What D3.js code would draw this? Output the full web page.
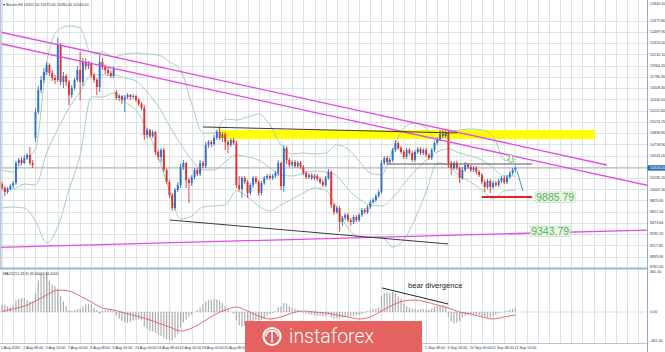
<!DOCTYPE html>
<html>
<head>
<meta charset="utf-8">
<script src="https://cdn.jsdelivr.net/npm/d3@7"></script>
<style>
html, body { margin: 0; padding: 0; background: #fff; }
svg { display: block; font-family: "Liberation Sans", Arial, sans-serif; }
</style>
</head>
<body>
<div id="chart"></div>
<script>
// H4 candles, 1 Aug 2019 00:00 .. 12 Sep 2019 16:00 (weekends skipped)
var timeLabels = ["1 Aug 2019", "2 Aug 08:00", "5 Aug 16:00", "7 Aug 00:00", "8 Aug 08:00", "9 Aug 16:00",
    "13 Aug 00:00", "14 Aug 08:00", "15 Aug 16:00", "19 Aug 00:00", "20 Aug 08:00", "21 Aug 16:00",
    "23 Aug 00:00", "26 Aug 08:00", "27 Aug 16:00", "29 Aug 00:00", "30 Aug 08:00", "2 Sep 16:00",
    "4 Sep 00:00", "5 Sep 08:00", "6 Sep 16:00", "10 Sep 00:00", "11 Sep 08:00", "12 Sep 16:00"];

var open = [10090,10027,9964,10011,10059,10106,10423,10470,10423,10502,
    10549,10423,10819,11230,11578,11737,11863,11974,11848,11768,
    11737,12291,11705,11800,11705,11499,11610,11737,11895,11705,
    12022,11958,11990,11816,11737,11626,12022,11943,11895,11848,
    11800,11547,11452,11483,11420,11468,11499,11468,11483,11420,
    11357,11294,10866,10945,10850,10914,10597,10518,10629,10312,
    10122,9916,9710,9995,10075,10359,10423,10154,10106,10201,
    10312,10249,10423,10375,10708,10755,10724,10819,10914,10819,
    10882,10755,10708,10787,10739,10075,10011,10185,10122,9948,
    10075,10185,10122,9948,10106,10185,10217,10185,10217,10264,
    10423,10059,10660,10470,10391,10439,10375,10423,10359,10264,
    10201,10233,10185,10217,10169,10122,10075,10185,10280,9758,
    9647,9710,9489,9552,9600,9520,9489,9568,9520,9600,
    9679,9647,9726,9805,9837,9900,9964,10423,10502,10439,
    10470,10629,10739,10660,10597,10518,10629,10581,10470,10597,
    10644,10581,10629,10549,10502,10629,10739,10803,10882,10850,
    10898,10423,10344,10423,10344,10185,10312,10391,10359,10312,
    10344,10280,10233,10122,10043,10138,10043,10106,10075,10138,
    10185,10122,10201,10264,10312];

var high = [10122,10059,10043,10090,10138,10454,10502,10518,10549,10581,
    10676,10470,11294,11642,11800,11927,12022,12006,11895,11816,
    12402,12323,11863,11832,11737,11658,11768,11958,12180,12085,
    12085,12038,12022,11848,11768,12133,12085,11974,11927,11879,
    11958,11578,11515,11499,11499,11531,11515,11515,11499,11452,
    11388,11341,10977,10961,10945,10929,10629,10660,10660,10344,
    10154,9948,10027,10122,10407,10470,10439,10185,10233,10344,
    10344,10470,10454,10755,10787,10787,10866,10945,10977,10914,
    10914,10787,10819,10819,10771,10217,10217,10217,10154,10106,
    10217,10217,10154,10138,10217,10249,10249,10249,10296,10470,
    10439,10708,10692,10502,10470,10470,10454,10454,10391,10296,
    10264,10264,10249,10249,10201,10154,10217,10328,10312,9790,
    9742,9742,9584,9631,9631,9552,9600,9600,9631,9710,
    9710,9758,9837,9869,9932,9995,10470,10534,10534,10502,
    10660,10787,10771,10692,10629,10660,10660,10613,10629,10676,
    10676,10660,10660,10581,10660,10771,10834,10945,10945,10961,
    10929,10454,10454,10454,10375,10359,10439,10423,10391,10375,
    10375,10312,10264,10154,10169,10169,10138,10138,10169,10217,
    10217,10233,10296,10344,10375];

var low = [9995,9900,9932,9995,10027,10075,10375,10391,10407,10470,
    10391,10344,10755,11199,11531,11689,11816,11800,11721,11673,
    11705,11658,11610,11642,11341,11452,11578,11705,11420,11642,
    11895,11911,11768,11689,11499,11547,11895,11832,11800,11768,
    11768,11420,11404,11357,11230,11436,11420,11436,11388,11325,
    11262,10787,10819,10819,10819,10549,10470,10439,10280,10090,
    9869,9663,9679,9964,10027,10312,10027,9790,10059,10154,
    10217,10217,10344,10344,10660,10676,10692,10787,10787,10755,
    10629,10581,10676,10708,10027,9980,9869,10090,9869,9916,
    10027,10090,9900,9916,10075,10154,10154,10154,10185,10217,
    9995,9964,10407,10359,10359,10344,10344,10328,10233,10169,
    10169,10154,10154,10138,10090,10043,10043,10154,9710,9600,
    9615,9331,9425,9520,9489,9425,9457,9489,9489,9568,
    9615,9615,9695,9774,9805,9869,9932,10391,10407,10407,
    10439,10597,10629,10565,10486,10486,10549,10439,10439,10565,
    10549,10549,10518,10470,10470,10597,10708,10771,10819,10819,
    10344,10233,10312,10312,10106,10154,10280,10328,10280,10280,
    10249,10201,10090,9964,10011,9948,10011,10043,10043,10106,
    10090,10090,10169,10233,10280];

var close = [10027,9964,10011,10059,10106,10423,10470,10423,10502,10549,
    10423,10391,11230,11578,11737,11863,11974,11848,11768,11737,
    12291,11705,11800,11705,11499,11610,11737,11895,11705,12022,
    11958,11990,11816,11737,11626,12022,11943,11895,11848,11800,
    11927,11452,11483,11420,11468,11499,11468,11483,11420,11357,
    11294,10866,10945,10850,10914,10597,10518,10629,10312,10122,
    9916,9710,9995,10075,10359,10423,10154,10106,10201,10312,
    10249,10423,10375,10708,10755,10724,10819,10914,10819,10882,
    10755,10708,10787,10739,10075,10011,10185,10122,9948,10075,
    10185,10122,9948,10106,10185,10217,10185,10217,10264,10423,
    10059,10660,10470,10391,10439,10375,10423,10359,10264,10201,
    10233,10185,10217,10169,10122,10075,10185,10280,9758,9647,
    9710,9489,9552,9600,9520,9489,9568,9520,9600,9679,
    9647,9726,9805,9837,9900,9964,10423,10502,10439,10470,
    10629,10739,10660,10597,10518,10629,10581,10470,10597,10644,
    10581,10629,10549,10502,10629,10739,10803,10882,10850,10898,
    10423,10344,10423,10344,10185,10312,10391,10359,10312,10344,
    10280,10233,10122,10043,10138,10043,10106,10075,10138,10185,
    10122,10201,10264,10312,10344];

// Bollinger bands, read every 4th candle
var bandIndex = [0,4,8,12,16,20,24,28,32,36,40,44,48,52,56,60,64,68,72,76,80,84,88,92,
    96,100,104,108,112,116,120,124,128,132,136,140,144,148,152,156,160,164,168,172,176,180,184];
var bandUpper = [10312,10280,10470,10644,12006,12528,12592,12560,12164,12180,12101,12148,12164,12148,12133,12022,
    11895,11357,10898,10898,11119,11104,11151,11199,11024,10708,10565,10581,10565,10581,10708,10644,
    10454,10264,10233,10629,10977,11056,10977,10771,10914,10945,10961,10945,10850,10470,10439];
var bandMiddle = [10011,10011,10090,10075,10581,10961,11294,11547,11816,11816,11816,11768,11721,11547,11325,11009,
    10724,10470,10312,10312,10439,10549,10518,10470,10344,10233,10217,10264,10296,10280,10217,10011,
    9853,9758,9742,9869,10090,10296,10470,10597,10644,10581,10534,10470,10344,10217,10217];
var bandLower = [9710,9726,9710,9505,9157,9410,9995,10549,11468,11468,11531,11388,11262,10945,10518,9980,
    9536,9584,9726,9742,9758,9980,9885,9742,9663,9758,9853,9948,10027,9995,9710,9394,
    9251,9251,9251,9093,9204,9536,9964,10423,10375,10217,10122,9995,9853,9980,9995];

// MACD(12,26,9): histogram per candle, signal read every 4th candle
var macdHist = [80,78,60,55,70,120,140,145,145,130,
    115,110,200,330,400,420,410,330,290,270,
    240,170,110,60,15,10,15,30,40,60,
    80,85,80,45,20,-20,10,20,25,25,
    20,-40,-70,-95,-110,-115,-105,-90,-80,-75,
    -90,-150,-175,-200,-205,-220,-240,-250,-270,-285,
    -295,-300,-270,-230,-160,-110,-80,-50,-30,0,
    20,50,80,110,125,130,135,130,120,95,
    60,30,0,-20,-90,-140,-155,-145,-130,-110,
    -95,-85,-90,-85,-70,-40,-20,-10,10,50,
    60,95,90,60,45,35,25,10,-5,-15,
    -25,-30,-35,-40,-40,-45,-45,-30,-60,-70,
    -65,-70,-60,-55,-50,-45,-40,-35,-30,-20,
    -5,10,25,35,40,45,170,200,205,200,
    210,195,165,140,90,60,45,35,30,25,
    30,30,25,25,35,55,65,70,70,60,
    -50,-100,-120,-110,-95,-60,-40,-30,-25,-20,
    -25,-35,-45,-55,-60,-55,-45,-30,-15,-5,
    5,15,25,35,45];
var macdSignal = [5,31,63,115,178,230,220,168,105,42,21,-10,-42,-73,-115,-157,-199,-168,-105,-31,21,52,10,-42,
    -73,-52,-10,10,0,-10,-31,-52,-73,-52,10,73,115,126,105,73,42,0,-21,-52,-73,-52,-31];

var priceTicks = [8762.00,8939.90,9117.80,9295.70,9473.60,9651.50,9829.40,10007.30,10185.20,10363.10,10541.00,
    10718.90,10896.80,11074.70,11252.60,11430.50,11608.40,11786.30,11964.20,12142.10,12320.00,12497.90,12675.80];
var priceTop = 12940.10;
var macdTicks = [461, 0, -461];

// drawn objects: [index1, price1, index2, price2]
var channelLines = [[-0.7, 12497, 216.8, 10391], [-0.7, 12315, 231.5, 10067]];
var supportLine = [-0.7, 9088, 231.5, 9362];
var topLine = [72.0, 10993, 163.1, 10898];
var bottomLine = [60.2, 9520, 159.9, 9141];
var zoneBox = [78.1, 10945, 212.5, 10803];
var neckLine = [138, 10407, 190, 10407];
var stopLine = [172, 9885.79, 190, 9885.79];
var pathLine = [184.6, 10296, 186.7, 9980];
var targets = [{text: "9885.79", idx: 191.1, price: 9885.79}, {text: "9343.79", idx: 189.3, price: 9343.79}];
var arrowAt = [182.4, 10549];
var divergence = [136.2, 252, 159.9, 84];

var W = 665, H = 352;
var plotRight = 647;

var svg = d3.select("#chart").append("svg")
    .attr("width", W)
    .attr("height", H);

var x = d3.scaleLinear().domain([0, 184]).range([2, 515.4]);
var y = d3.scaleLinear().domain([8762, priceTop]).range([267.9, 4]);
var ym = d3.scaleLinear().domain([-461, 461]).range([356, 268]);

svg.append("rect").attr("width", W).attr("height", H).attr("fill", "#fff");

var defs = svg.append("defs");
defs.append("clipPath").attr("id", "clipMain")
    .append("rect").attr("x", 0).attr("y", 0).attr("width", plotRight).attr("height", 267);
defs.append("clipPath").attr("id", "clipMacd")
    .append("rect").attr("x", 0).attr("y", 270).attr("width", plotRight).attr("height", 73);

// grid
var grid = svg.append("g");
grid.selectAll("line.v").data(d3.range(0, 232, 4)).enter().append("line")
    .attr("x1", function (d) { return Math.round(x(d)) + 0.5; })
    .attr("x2", function (d) { return Math.round(x(d)) + 0.5; })
    .attr("y1", 0).attr("y2", 343)
    .attr("stroke", "#dde2e8").attr("stroke-width", 1);
grid.selectAll("line.h").data(priceTicks).enter().append("line")
    .attr("x1", 0).attr("x2", plotRight)
    .attr("y1", function (d) { return Math.round(y(d)) + 0.5; })
    .attr("y2", function (d) { return Math.round(y(d)) + 0.5; })
    .attr("stroke", "#dde2e8").attr("stroke-width", 1);

var main = svg.append("g").attr("clip-path", "url(#clipMain)");

// yellow resistance zone (behind candles)
main.append("rect")
    .attr("x", x(zoneBox[0]))
    .attr("y", y(zoneBox[1]))
    .attr("width", x(zoneBox[2]) - x(zoneBox[0]))
    .attr("height", y(zoneBox[3]) - y(zoneBox[1]))
    .attr("fill", "#ffff00");

// bollinger bands
var bandLine = function (vals) {
    return d3.line()
        .x(function (d, i) { return x(bandIndex[i]); })
        .y(function (d) { return y(d); })
        .curve(d3.curveMonotoneX)(vals);
};
[bandUpper, bandMiddle, bandLower].forEach(function (b) {
    main.append("path").attr("d", bandLine(b))
        .attr("fill", "none").attr("stroke", "#aacdb9").attr("stroke-width", 1);
});

// current price line
main.append("line")
    .attr("x1", 0).attr("x2", plotRight)
    .attr("y1", y(close[close.length - 1])).attr("y2", y(close[close.length - 1]))
    .attr("stroke", "#b0b0b0").attr("stroke-width", 1);

// candles
var candles = main.selectAll("g.candle").data(close).enter().append("g");
var colorOf = function (i) { return close[i] >= open[i] ? "#2f6fd0" : "#e0312a"; };
candles.append("line")
    .attr("x1", function (d, i) { return x(i); })
    .attr("x2", function (d, i) { return x(i); })
    .attr("y1", function (d, i) { return y(high[i]); })
    .attr("y2", function (d, i) { return y(low[i]); })
    .attr("stroke", function (d, i) { return colorOf(i); })
    .attr("stroke-width", 0.9);
candles.append("rect")
    .attr("x", function (d, i) { return x(i) - 0.95; })
    .attr("width", 1.9)
    .attr("y", function (d, i) { return y(Math.max(open[i], close[i])); })
    .attr("height", function (d, i) { return Math.max(1, Math.abs(y(open[i]) - y(close[i]))); })
    .attr("fill", function (d, i) { return colorOf(i); });

// drawn trend lines
var drawSeg = function (g, s, color, width) {
    g.append("line")
        .attr("x1", x(s[0])).attr("y1", y(s[1]))
        .attr("x2", x(s[2])).attr("y2", y(s[3]))
        .attr("stroke", color).attr("stroke-width", width);
};
channelLines.forEach(function (s) { drawSeg(main, s, "#e24ee2", 1.3); });
drawSeg(main, supportLine, "#e24ee2", 1.3);
drawSeg(main, topLine, "#3a3a3a", 1);
drawSeg(main, bottomLine, "#3a3a3a", 1);
drawSeg(main, neckLine, "#555", 1);
drawSeg(main, stopLine, "#e8231f", 2);
drawSeg(main, pathLine, "#3f9e8f", 1);

// hollow arrow
var ax = x(arrowAt[0]), ay = y(arrowAt[1]);
main.append("path")
    .attr("d", "M" + (ax - 1.5) + "," + ay + "L" + (ax + 1.5) + "," + ay + "L" + (ax + 1.5) + "," + (ay + 4) +
        "L" + (ax + 3.6) + "," + (ay + 4) + "L" + ax + "," + (ay + 8) + "L" + (ax - 3.6) + "," + (ay + 4) +
        "L" + (ax - 1.5) + "," + (ay + 4) + "Z")
    .attr("fill", "#fff").attr("stroke", "#6cc06c").attr("stroke-width", 0.9);

// target labels
targets.forEach(function (t) {
    var tx = x(t.idx), ty = y(t.price);
    var bg = main.append("rect");
    var txt = main.append("text")
        .attr("x", tx + 1).attr("y", ty + 3.8)
        .attr("font-size", 10.5).attr("fill", "#55b455")
        .text(t.text);
    var w = txt.node().getComputedTextLength();
    bg.attr("x", tx).attr("y", ty - 5).attr("width", w + 2).attr("height", 10.5)
        .attr("fill", "#e9f6e9").attr("stroke", "#b5dfb5").attr("stroke-width", 0.6);
});

// panel frame
svg.append("line").attr("x1", 0).attr("x2", plotRight).attr("y1", 268.5).attr("y2", 268.5)
    .attr("stroke", "#9ab6d3").attr("stroke-width", 2.2);
svg.append("line").attr("x1", 0.75).attr("x2", 0.75).attr("y1", 0).attr("y2", 268)
    .attr("stroke", "#b3c8de").attr("stroke-width", 1.5);
svg.append("line").attr("x1", plotRight + 0.5).attr("x2", plotRight + 0.5).attr("y1", 0).attr("y2", 352)
    .attr("stroke", "#8eaacc").attr("stroke-width", 1);
svg.append("line").attr("x1", 0).attr("x2", plotRight).attr("y1", 343.5).attr("y2", 343.5)
    .attr("stroke", "#b3c8de").attr("stroke-width", 1);

// MACD panel
var macd = svg.append("g").attr("clip-path", "url(#clipMacd)");
macd.append("line").attr("x1", 0).attr("x2", plotRight).attr("y1", ym(0)).attr("y2", ym(0))
    .attr("stroke", "#999").attr("stroke-width", 0.8).attr("stroke-dasharray", "1,1.5");
macd.selectAll("rect.bar").data(macdHist).enter().append("rect")
    .attr("x", function (d, i) { return x(i) - 0.6; })
    .attr("width", 1.2)
    .attr("y", function (d) { return Math.min(ym(d), ym(0)); })
    .attr("height", function (d) { return Math.abs(ym(d) - ym(0)); })
    .attr("fill", "#adadad");
macd.append("path")
    .attr("d", d3.line()
        .x(function (d, i) { return x(bandIndex[i]); })
        .y(function (d) { return ym(d); })
        .curve(d3.curveMonotoneX)(macdSignal))
    .attr("fill", "none").attr("stroke", "#e66a6a").attr("stroke-width", 1);
macd.append("line")
    .attr("x1", x(divergence[0])).attr("y1", ym(divergence[1]))
    .attr("x2", x(divergence[2])).attr("y2", ym(divergence[3]))
    .attr("stroke", "#222").attr("stroke-width", 1);
macd.append("text")
    .attr("x", x(145.5)).attr("y", ym(255))
    .attr("font-size", 7.6).attr("fill", "#222")
    .text("bear divergence");

// small texts
var tiny = 3.7;
var last = close.length - 1;
svg.append("text").attr("x", 3).attr("y", 5.5).attr("font-size", tiny).attr("fill", "#333")
    .text("\u25BE Bitcoin,H4  " + open[last].toFixed(2) + " " + high[last].toFixed(2) + " " +
        low[last].toFixed(2) + " " + close[last].toFixed(2));
svg.append("text").attr("x", 3).attr("y", 274.5).attr("font-size", tiny).attr("fill", "#333")
    .text("MACD(12,26,9) " + macdHist[last].toFixed(4) + " " + macdSignal[macdSignal.length - 1].toFixed(4));

var axis = svg.append("g").attr("font-size", tiny).attr("fill", "#333");
axis.selectAll("text.p").data(priceTicks).enter().append("text")
    .attr("x", plotRight + 3).attr("y", function (d, i) { return i === 0 ? y(d) - 0.2 : y(d) + 1.3; })
    .text(function (d) { return d.toFixed(2); });
axis.append("text").attr("x", plotRight + 3).attr("y", y(priceTop) + 1.3).text(priceTop.toFixed(2));
axis.append("text").attr("x", plotRight + 3).attr("y", 273.2).text(macdTicks[0].toFixed(2));
axis.append("text").attr("x", plotRight + 3).attr("y", ym(macdTicks[1]) + 1.3).text(macdTicks[1].toFixed(2));
axis.append("text").attr("x", plotRight + 3).attr("y", 342).text(macdTicks[2].toFixed(2));
axis.selectAll("text.t").data(timeLabels).enter().append("text")
    .attr("x", function (d, i) { return x(i * 8) - 1; })
    .attr("y", 349)
    .text(function (d) { return d; });

// current price tag
var cy = y(close[last]);
svg.append("rect").attr("x", plotRight + 0.5).attr("y", cy - 2.7).attr("width", W - plotRight).attr("height", 5.4)
    .attr("fill", "#2c6db5");
svg.append("text").attr("x", plotRight + 3).attr("y", cy + 1.3).attr("font-size", tiny).attr("fill", "#fff")
    .text(close[last].toFixed(2));

// watermark
var logo = svg.append("g");
logo.append("rect").attr("x", 245).attr("y", 321).attr("width", 177).attr("height", 31).attr("fill", "#e4625f");
logo.append("circle").attr("cx", 272).attr("cy", 336.5).attr("r", 8.5)
    .attr("fill", "none").attr("stroke", "#fff").attr("stroke-width", 2.2);
logo.append("path").attr("d", "M266,336.5 A6,6 0 0,1 278,336.5 M272,330.5 L272,342.5")
    .attr("fill", "none").attr("stroke", "#fff").attr("stroke-width", 1.6);
logo.append("text").attr("x", 289).attr("y", 342.5)
    .attr("font-family", "Roboto, 'Open Sans', sans-serif").attr("font-weight", 300)
    .attr("font-size", 19.5).attr("fill", "#fff")
    .text("instaforex");
</script>
</body>
</html>
